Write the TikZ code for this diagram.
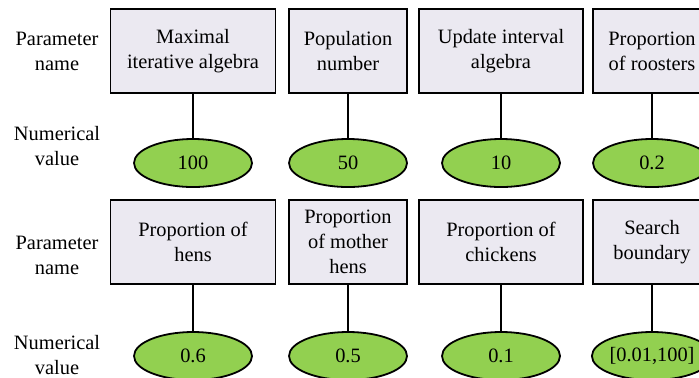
\documentclass[tikz,border=0pt]{standalone}
\usepackage{fontspec}
\setmainfont{Liberation Serif}
\newfontfamily\diagfont{Liberation Serif}
\usetikzlibrary{shapes.geometric}

\definecolor{boxgray}{RGB}{235,233,241}
\definecolor{valgreen}{RGB}{146,208,80}

\tikzset{
    parbox/.style={draw, fill=boxgray, line width=0.9pt, inner sep=0pt,
        align=center, minimum height=42pt},
    valnode/.style={draw, ellipse, fill=valgreen, line width=0.9pt,
        inner sep=0pt, minimum width=59pt, minimum height=24pt},
    rowlabel/.style={align=center},
    link/.style={line width=0.9pt}
}

\begin{document}
\begin{tikzpicture}[x=0.5pt,y=-0.5pt,font=\diagfont\fontsize{10.2}{12.5}\selectfont]
                \useasboundingbox (0,0) rectangle (699,377);
                \clip (0,0) rectangle (699,377);
                % first row
                \foreach \n/\x/\w/\name/\val in {
                    a/193/82.5/{Maximal\\iterative algebra}/100,
                    b/348/59/{Population\\number}/50,
                    c/501/82/{Update interval\\algebra}/10,
                    d/652/59/{Proportion\\of roosters}/0.2}{
                    \node[parbox, minimum width=\w pt] (p\n) at (\x,51) {\name};
                    \node[valnode] (v\n) at (\x,163) {\val};
                    \draw[link] (p\n) -- (v\n);
                }
                % second row
                \foreach \n/\x/\w/\name/\val in {
                    e/193/82.5/{Proportion of\\hens}/0.6,
                    f/348/59/{Proportion\\of mother\\hens}/0.5,
                    g/501/82/{Proportion of\\chickens}/0.1,
                    h/652/59/{Search\\boundary}/{[0.01,100]}}{
                    \node[parbox, minimum width=\w pt] (p\n) at (\x,242) {\name};
                    \node[valnode] (v\n) at (\x,356) {\val};
                    \draw[link] (p\n) -- (v\n);
                }
                \node[rowlabel] (nameA) at (57,51) {Parameter\\name};
                \node[rowlabel] (numA) at (57,146) {Numerical\\value};
                \node[rowlabel] (nameB) at (57,255) {Parameter\\name};
                \node[rowlabel] (numB) at (57,355) {Numerical\\value};
            \end{tikzpicture}
\end{document}
